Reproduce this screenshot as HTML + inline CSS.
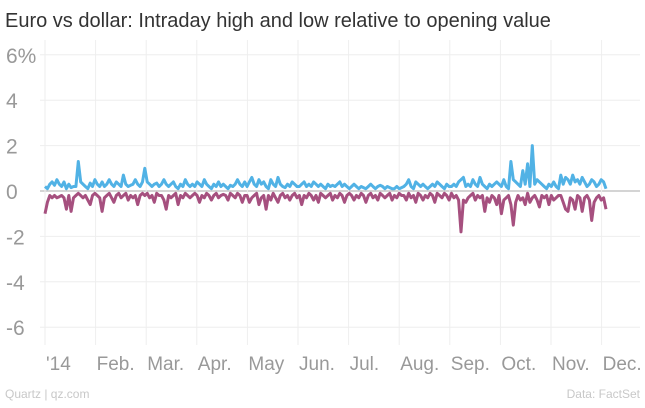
<!DOCTYPE html>
<html><head><meta charset="utf-8"><style>
body{margin:0;background:#fff;width:645px;height:403px;overflow:hidden;font-family:"Liberation Sans",sans-serif}
</style></head><body>
<svg id="chart" width="645" height="403">
<text x="5" y="27" font-size="20" fill="#333">Euro vs dollar: Intraday high and low relative to opening value</text>
<g id="grid"></g><g id="series"></g>
<text x="5" y="398" font-size="12" fill="#c8c8c8">Quartz | qz.com</text>
<text x="640" y="398" font-size="12" fill="#c8c8c8" text-anchor="end">Data: FactSet</text>
</svg>
<script>
const yTicks=[6,4,2,0,-2,-4,-6];
const yTickLabels=["6%","4","2","0","-2","-4","-6"];
const months=["'14","Feb.","Mar.","Apr.","May","Jun.","Jul.","Aug.","Sep.","Oct.","Nov.","Dec."];
const highs=[0.2,0.1,0.3,0.4,0.25,0.5,0.3,0.2,0.4,0.1,0.3,0.15,0.2,0.2,1.3,0.4,0.3,0.2,0.1,0.35,0.2,0.5,
0.3,0.2,0.4,0.2,0.3,0.5,0.3,0.2,0.4,0.3,0.2,0.7,0.3,0.2,0.25,0.3,0.5,0.3,0.2,0.4,
1.0,0.4,0.3,0.2,0.3,0.35,0.2,0.3,0.5,0.3,0.2,0.3,0.4,0.2,0.1,0.3,0.2,0.5,0.3,0.2,0.3,
0.2,0.4,0.3,0.2,0.5,0.3,0.2,0.1,0.3,0.2,0.4,0.2,0.3,0.2,0.1,0.25,0.2,0.3,0.5,0.3,0.2,0.4,
0.2,0.4,0.6,0.3,0.2,0.5,0.3,0.4,0.2,0.1,0.5,0.3,0.2,0.6,0.3,0.2,0.15,0.3,0.2,0.4,0.3,0.2,
0.2,0.3,0.4,0.2,0.3,0.2,0.4,0.3,0.2,0.3,0.2,0.1,0.3,0.2,0.25,0.2,0.3,0.4,0.2,0.3,0.2,
0.1,0.2,0.3,0.2,0.1,0.2,0.15,0.1,0.2,0.3,0.2,0.1,0.2,0.25,0.2,0.1,0.2,0.15,0.1,0.1,0.2,0.1,0.15,
0.2,0.3,0.5,0.2,0.1,0.4,0.3,0.2,0.3,0.2,0.1,0.2,0.3,0.2,0.4,0.3,0.2,0.1,0.3,0.2,0.2,
0.3,0.2,0.4,0.5,0.6,0.2,0.3,0.2,0.5,0.3,0.2,0.6,0.3,0.2,0.1,0.3,0.2,0.3,0.4,0.3,0.2,0.5,
0.2,0.1,1.3,0.5,0.4,0.3,0.2,0.9,0.3,1.2,0.2,2.0,0.3,0.5,0.4,0.3,0.2,0.1,0.3,0.2,0.4,0.2,0.1,
0.7,0.3,0.6,0.5,0.3,0.7,0.4,0.5,0.3,0.6,0.4,0.2,0.3,0.5,0.4,0.2,0.3,0.5,0.4,0.1];
const lows=[-1.0,-0.5,-0.2,-0.3,-0.2,-0.3,-0.25,-0.2,-0.3,-0.8,-0.2,-0.9,-0.3,-0.2,-0.1,-0.2,-0.3,-0.2,-0.4,-0.6,-0.2,-0.1,
-0.2,-0.3,-0.9,-0.3,-0.2,-0.1,-0.3,-0.5,-0.2,-0.1,-0.3,-0.2,-0.1,-0.4,-0.2,-0.3,-0.2,-0.6,-0.2,-0.1,
-0.2,-0.1,-0.3,-0.2,-0.5,-0.1,-0.2,-0.2,-0.4,-0.8,-0.2,-0.3,-0.2,-0.1,-0.6,-0.2,-0.3,-0.1,-0.2,-0.3,-0.2,
-0.1,-0.2,-0.5,-0.2,-0.3,-0.1,-0.2,-0.4,-0.2,-0.1,-0.3,-0.2,-0.15,-0.2,-0.4,-0.1,-0.2,-0.3,-0.1,-0.2,-0.5,-0.2,
-0.2,-0.5,-0.3,-0.2,-0.1,-0.6,-0.3,-0.2,-0.8,-0.2,-0.4,-0.1,-0.3,-0.5,-0.2,-0.1,-0.3,-0.2,-0.4,-0.2,-0.1,-0.3,
-0.2,-0.6,-0.2,-0.3,-0.1,-0.2,-0.4,-0.2,-0.5,-0.1,-0.2,-0.3,-0.2,-0.1,-0.4,-0.2,-0.3,-0.1,-0.2,-0.5,-0.2,
-0.1,-0.2,-0.4,-0.2,-0.3,-0.1,-0.2,-0.5,-0.2,-0.1,-0.3,-0.2,-0.4,-0.1,-0.2,-0.3,-0.2,-0.1,-0.4,-0.2,-0.3,-0.1,-0.2,
-0.2,-0.4,-0.1,-0.3,-0.2,-0.5,-0.1,-0.2,-0.4,-0.2,-0.3,-0.1,-0.2,-0.5,-0.1,-0.2,-0.3,-0.1,-0.2,-0.4,-0.1,
-0.3,-0.2,-0.4,-1.8,-0.4,-0.5,-0.3,-0.2,-0.1,-0.4,-0.2,-0.3,-0.2,-0.9,-0.3,-0.5,-0.2,-0.3,-0.6,-0.2,-1.0,-0.4,
-0.3,-0.2,-0.6,-1.5,-0.5,-0.2,-0.4,-0.3,-0.6,-0.1,-0.5,-0.3,-0.2,-0.4,-0.7,-0.2,-0.3,-0.2,-0.6,-0.2,-0.4,-0.3,-0.2,
-0.2,-0.5,-0.8,-0.9,-0.3,-0.4,-0.8,-0.2,-0.3,-0.9,-0.3,-0.2,-0.4,-1.3,-0.5,-0.3,-0.2,-0.4,-0.3,-0.8];
const NS="http://www.w3.org/2000/svg";
const x0=45,x1=606,plotL=40,plotR=640;
function y(v){return 191-v*22.7;}
function xi(i,n){return x0+i*(x1-x0)/(n-1);}
function xm(m){return 45+m*50.6;}
const grid=document.getElementById('grid'),ser=document.getElementById('series');
function mk(tag,attrs,parent){const e=document.createElementNS(NS,tag);for(const k in attrs)e.setAttribute(k,attrs[k]);parent.appendChild(e);return e;}
yTicks.forEach((t,i)=>{
  const l=mk('line',{x1:plotL,x2:plotR,y1:y(t),y2:y(t),stroke:t===0?'#aaa':'#eee','stroke-width':1},grid);
  
  
  const tx=mk('text',{x:6,y:y(t)+8,'font-size':21,fill:'#999'},grid);
  tx.textContent=yTickLabels[i];
  
  
});
months.forEach((m,i)=>{
  const l=mk('line',{x1:xm(i),x2:xm(i),y1:40,y2:345,stroke:'#eee','stroke-width':1},grid);
  
  
  const tx=mk('text',{x:xm(i)+1,y:370,'font-size':19,fill:'#999'},grid);
  tx.textContent=m;
  
  
});
function line(data,color,name){
  const n=data.length;
  const d=data.map((v,i)=>(i?'L':'M')+xi(i,n).toFixed(1)+','+y(v).toFixed(1)).join('');
  const p=mk('path',{d:d,fill:'none',stroke:color,'stroke-width':3,'stroke-linejoin':'round'},ser);
  
  
}
line(lows,'#a6507f','low-series');
line(highs,'#51b2e5','high-series');
</script>
</body></html>
